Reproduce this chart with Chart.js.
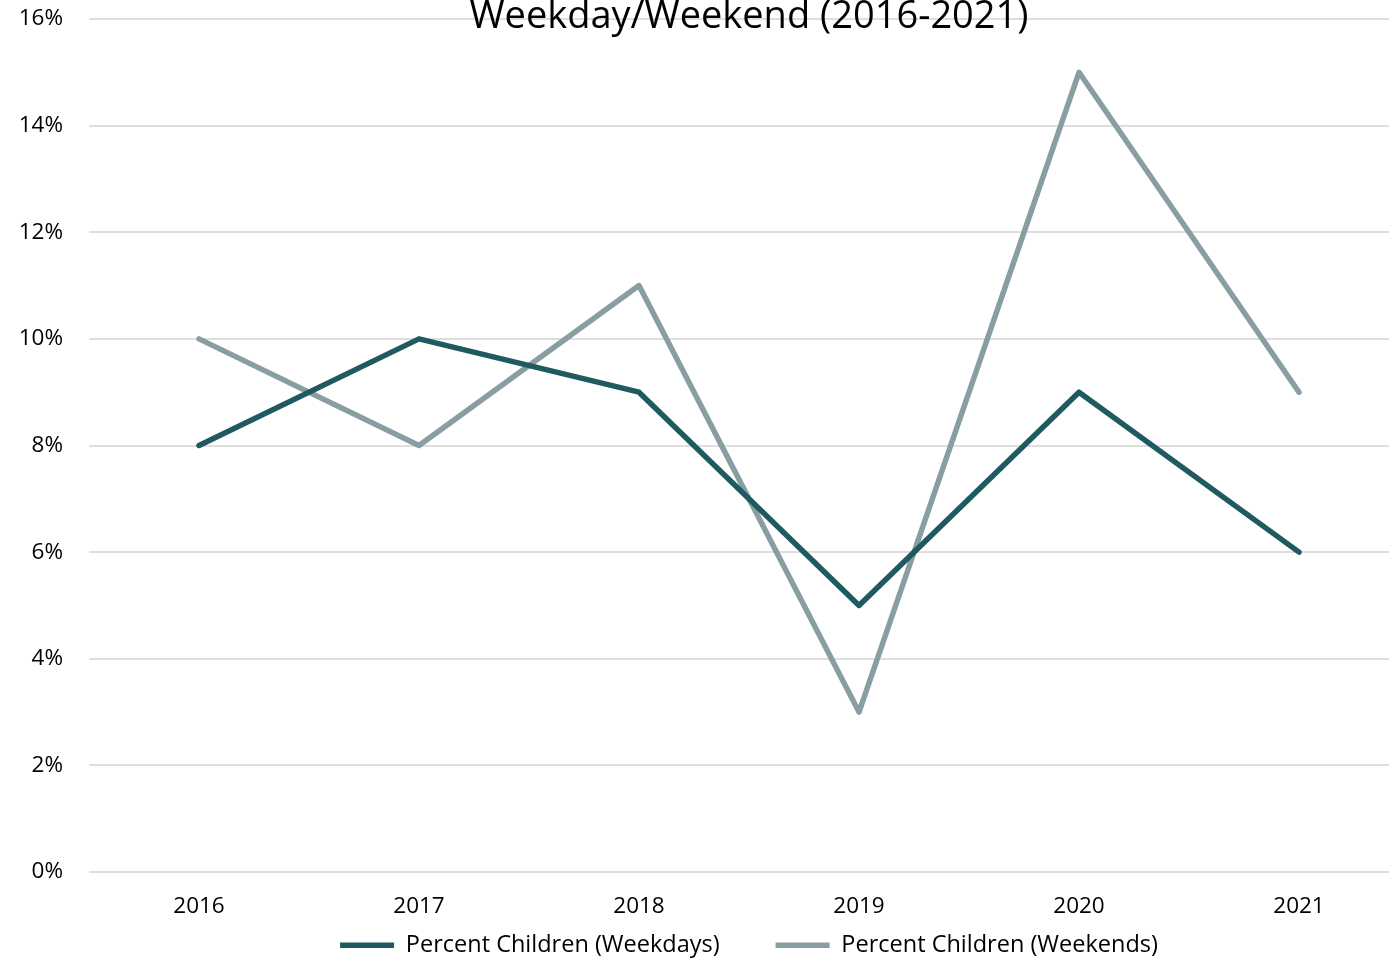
<!DOCTYPE html>
<html>
<head>
<meta charset="utf-8">
<script src="https://cdn.jsdelivr.net/npm/chart.js@4/dist/chart.umd.min.js"></script>
<style>
    html, body { margin: 0; padding: 0; background: #fff; overflow: hidden; }
    #childrenChart { position: absolute; left: 0; top: 0; display: block; }
</style>
</head>
<body>
<canvas id="childrenChart" width="1409" height="960"></canvas>
<script>
const years = ['2016', '2017', '2018', '2019', '2020', '2021'];
const weekdayPct = [8, 10, 9, 5, 9, 6];
const weekendPct = [10, 8, 11, 3, 15, 9];
const chartTitle = 'Weekday/Weekend (2016-2021)';

const FONT = "'Open Sans', sans-serif";

// titel digambar manual supaya bisa menimpa area plot seperti di gambar asli
const titlePlugin = {
    id: 'overlayTitle',
    afterDraw(chart) {
        const ctx = chart.ctx;
        const area = chart.chartArea;
        ctx.save();
        ctx.font = "38px " + FONT;
        ctx.fillStyle = '#000';
        ctx.textAlign = 'center';
        ctx.textBaseline = 'alphabetic';
        ctx.fillText(chartTitle, (area.left + area.right) / 2, 28);
        ctx.restore();
    }
};

const ctx = document.getElementById('childrenChart');
new Chart(ctx, {
    type: 'line',
    data: {
        labels: years,
        datasets: [{
            label: 'Percent Children (Weekdays)',
            data: weekdayPct,
            borderColor: '#1f5a61',
            backgroundColor: '#1f5a61',
            borderWidth: 5.5,
            borderCapStyle: 'round',
            borderJoinStyle: 'round',
            pointRadius: 0,
            tension: 0
        }, {
            label: 'Percent Children (Weekends)',
            data: weekendPct,
            borderColor: '#889ea2',
            backgroundColor: '#889ea2',
            borderWidth: 5.5,
            borderCapStyle: 'round',
            borderJoinStyle: 'round',
            pointRadius: 0,
            tension: 0
        }]
    },
    plugins: [titlePlugin],
    options: {
        responsive: false,
        animation: false,
        layout: { padding: { top: 19, left: 0, right: 0, bottom: 0 } },
        scales: {
            x: {
                offset: true,
                grid: { display: false, drawTicks: false },
                border: { display: false },
                ticks: { color: '#000', font: { family: FONT, size: 22.5 }, padding: 21 },
                afterFit(scale) { scale.height = 48; }
            },
            y: {
                min: 0,
                max: 16,
                grid: {
                    color: '#dedede',
                    lineWidth: 2,
                    drawTicks: true,
                    tickLength: 26,
                    tickColor: 'rgba(0,0,0,0)'
                },
                border: { display: false },
                ticks: {
                    stepSize: 2,
                    color: '#000',
                    font: { family: FONT, size: 22.5 },
                    padding: 0,
                    callback: v => v + '%'
                },
                afterFit(scale) { scale.width = 89; }
            }
        },
        plugins: {
            title: { display: false },
            tooltip: { enabled: false },
            legend: {
                position: 'bottom',
                fullSize: false,
                maxHeight: 40,
                // judul kosong dengan padding negatif, biar jarak antar item bisa lebar tanpa mendorong teks ke bawah
                title: { display: true, text: '', font: { size: 10 }, padding: { top: -54.5, bottom: 0 } },
                labels: {
                    usePointStyle: true,
                    pointStyle: 'line',
                    pointStyleWidth: 54,
                    color: '#000',
                    font: { family: FONT, size: 23.5 },
                    padding: 56
                }
            }
        }
    }
});
</script>
</body>
</html>
